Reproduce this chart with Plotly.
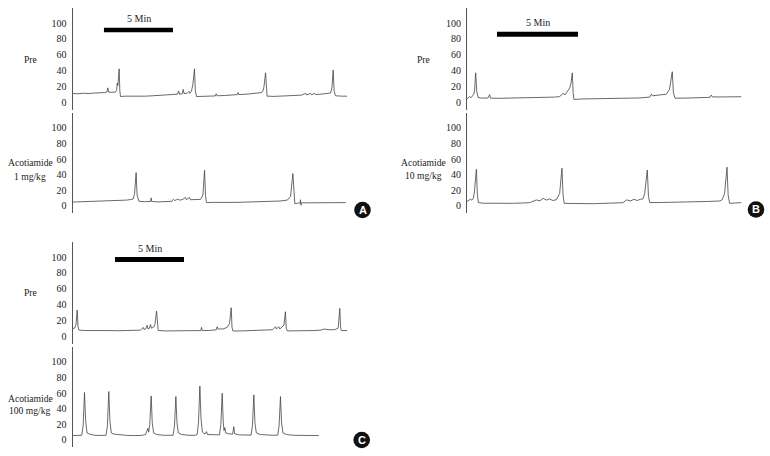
import plotly.graph_objects as go

# ---------------- data (time in minutes, amplitude in arbitrary units) ----------------
y_ticks = [0, 20, 40, 60, 80, 100]
bar_minutes = 5
bar_label = "5 Min"

A_pre_t = [0, 0.4, 0.8, 1.2, 1.6, 2.0, 2.35, 2.5, 2.56, 2.62, 2.9, 3.1, 3.2, 3.24, 3.29, 3.33, 3.38, 3.43, 3.48,
           3.8, 4.3, 4.8, 5.3, 5.8, 6.3, 6.8, 7.3, 7.6, 7.7, 7.76, 7.95, 8.02, 8.08, 8.3, 8.43, 8.5, 8.62, 8.72,
           8.84, 8.9, 8.99, 9.4, 9.9, 10.35, 10.41, 10.47, 11.0, 11.5, 11.95, 12.0, 12.06, 12.6, 13.1, 13.5,
           13.7, 13.82, 13.88, 13.99, 14.05, 14.1, 14.6, 15.1, 15.6, 16.1, 16.6, 16.9, 16.96, 17.25, 17.31,
           17.56, 17.62, 18.0, 18.4, 18.7, 18.8, 18.89, 18.96, 19.06, 19.5, 19.9]
A_pre_v = [11, 10.5, 11.2, 10.8, 11.5, 11.3, 12, 13, 18, 12.5, 12, 12.5, 15, 24, 21, 30, 42, 14, 7,
           7.5, 7.2, 7.8, 7.5, 8, 8.3, 8.8, 9.5, 10, 14, 10, 10.5, 16, 11, 11, 13.5, 11, 14, 22,
           42, 14, 7, 7.3, 7.8, 7.8, 10.5, 8, 8.3, 8.8, 9.5, 12, 9.5, 10, 10.5, 11,
           12, 15, 20, 37, 15, 7.5, 7.2, 7.5, 7.8, 8.2, 8.8, 11, 9, 11, 9.2,
           11, 9.5, 10, 10.5, 11.5, 18, 40.5, 14, 8, 7.5, 7.5]

A_1_t = [0, 0.5, 1.0, 1.5, 2.0, 2.5, 3.0, 3.5, 3.9, 4.2, 4.4, 4.5, 4.61, 4.68, 4.76, 4.81, 5.2, 5.66, 5.7, 5.74,
         6.2, 6.7, 7.2, 7.3, 7.4, 7.6, 7.8, 8.0, 8.19, 8.25, 8.48, 8.54, 8.9, 9.28, 9.45, 9.57, 9.64, 9.71,
         10.2, 10.8, 11.4, 12.0, 12.6, 13.2, 13.8, 14.4, 15.0, 15.56, 15.8, 15.97, 16.04, 16.11, 16.3, 16.5,
         16.52, 16.55, 16.6, 17.1, 17.7, 18.3, 18.9, 19.4, 19.8]
A_1_v = [5, 5.3, 5, 5.6, 5.5, 6, 6.2, 6.8, 7.5, 8.2, 9, 16, 42.7, 14, 7, 6, 5.5, 5.8, 10.3, 5.8,
         5.2, 5.5, 6, 8.5, 7, 8.5, 7.5, 8.5, 11, 8, 11, 8, 8, 8.5, 14, 45.7, 13, 4.3,
         4.6, 4.4, 4.8, 4.6, 5, 5.2, 5.5, 5.8, 6.3, 7.5, 12, 41.5, 12, 3, 3.5, 4,
         8, 1, 4, 4.2, 4, 4.5, 4.2, 4.5, 4.3]

B_pre_t = [0, 0.1, 0.16, 0.25, 0.35, 0.42, 0.47, 0.535, 0.6, 0.68, 0.9, 1.3, 1.4, 1.45, 2.0, 2.6, 3.2, 3.8,
           4.3, 4.9, 5.4, 5.72, 5.93, 6.05, 6.2, 6.34, 6.42, 6.5, 6.55, 6.6, 7.2, 7.8, 8.4, 9.0, 9.6, 10.04,
           10.6, 11.28, 11.38, 11.45, 11.9, 12.3, 12.5, 12.67, 12.74, 12.84, 13.4, 14.0, 14.6, 15.0, 15.08,
           15.15, 15.7, 16.3, 16.93]
B_pre_v = [4, 6, 7, 5.5, 7.5, 10, 15, 37, 14, 6, 5, 5.2, 9.5, 5, 4.8, 5, 5, 5.2,
           5.3, 5.8, 6.3, 7, 11, 9, 13, 18, 24, 37, 12, 3.4, 4, 4.2, 4, 4.3, 4.2, 4.5,
           5.2, 6.3, 10, 8, 8.8, 10, 16, 38.4, 12, 5, 5, 5.2, 5.5, 6, 9,
           6.5, 6.5, 7, 6.8]

B_10_t = [0, 0.1, 0.2, 0.3, 0.4, 0.47, 0.58, 0.64, 0.7, 1.0, 1.6, 2.2, 2.8, 3.4, 3.87, 4.28, 4.5, 4.7, 4.9,
          5.1, 5.3, 5.51, 5.72, 5.86, 5.93, 6.0, 6.6, 7.2, 7.8, 8.4, 9.0, 9.63, 9.84, 10.1, 10.3, 10.5, 10.7,
          10.86, 10.97, 11.13, 11.2, 11.28, 11.9, 12.5, 13.1, 13.7, 14.3, 14.9, 15.6, 15.75, 15.9, 16.05,
          16.12, 16.21, 16.5, 16.93]
B_10_v = [5.6, 7.5, 8.5, 7.5, 10, 20.5, 47, 15, 4.3, 3.5, 3.3, 3.6, 3.4, 3.8, 4.2, 7.7, 6.5, 9.8, 7.5,
          9, 7, 8, 16, 48.3, 14, 3.3, 3, 3.2, 2.9, 3.3, 3.5, 4.2, 7.7, 6.5, 8.5, 7, 8.5,
          9, 16, 46, 13, 4.3, 4.4, 4.6, 4.5, 5, 5.2, 5.8, 6.4, 8, 16, 49.6,
          14, 3.3, 3.8, 4.3]

C_pre_t = [0, 0.15, 0.25, 0.34, 0.4, 0.46, 0.9, 1.5, 2.1, 2.7, 3.3, 3.9, 4.5, 4.93, 5.12, 5.18, 5.3, 5.41,
           5.47, 5.58, 5.65, 5.72, 5.89, 5.98, 6.09, 6.15, 6.21, 6.8, 7.4, 8.0, 8.6, 9.3, 9.35, 9.4, 10.0,
           10.42, 10.48, 10.55, 10.9, 11.21, 11.38, 11.5, 11.56, 11.62, 12.2, 12.8, 13.4, 14.0, 14.5, 14.71,
           14.78, 14.95, 15.02, 15.19, 15.32, 15.43, 15.49, 15.56, 16.2, 16.8, 17.4, 18.0, 18.21, 18.6, 19.0,
           19.25, 19.37, 19.43, 19.49, 19.9]
C_pre_v = [9.7, 10, 14, 33, 12, 7.6, 7, 7.2, 6.8, 7, 6.8, 7.1, 7, 7.5, 11, 8.5, 9, 13.7,
           9, 10, 14.6, 10, 11.5, 15, 31.6, 11, 7, 6.5, 6.8, 6.5, 6.9, 7, 11, 7, 7.2,
           8, 11.8, 9, 9, 11, 16, 35.9, 11, 6.5, 6.5, 6.8, 6.7, 7, 8, 11.8,
           9, 11.8, 9, 11.5, 14, 30.8, 10, 6.5, 6.5, 6.8, 7, 7.5, 8.9, 8, 8.2,
           10, 35, 10, 7, 7]

C_100_t = [0, 0.4, 0.67, 0.77, 0.87, 0.95, 1.05, 1.25, 1.6, 2.0, 2.43, 2.53, 2.63, 2.71, 2.81, 3.0, 3.5, 4.0,
           4.5, 5.0, 5.3, 5.46, 5.52, 5.6, 5.7, 5.78, 5.88, 6.1, 6.6, 7.0, 7.29, 7.39, 7.49, 7.57, 7.67, 7.9,
           8.4, 8.9, 9.03, 9.13, 9.23, 9.31, 9.41, 9.6, 9.71, 9.78, 10.2, 10.65, 10.75, 10.85, 10.92, 10.98,
           11.04, 11.1, 11.3, 11.6, 11.69, 11.75, 12.1, 12.6, 12.94, 13.04, 13.14, 13.22, 13.32, 13.6, 14.1,
           14.5, 14.87, 14.97, 15.07, 15.15, 15.25, 15.5, 16.0, 16.6, 17.2, 17.85]
C_100_v = [5.6, 5.6, 6, 18, 60.7, 25, 9, 7.5, 6, 5.8, 6, 18, 62, 25, 9, 7.5, 6.5, 5.8,
           5.6, 5.8, 7, 15, 10, 20, 56.4, 22, 9, 7, 6, 5.8, 6, 18, 55.6, 22, 9, 7,
           6, 6, 7, 22, 69, 28, 10, 7.5, 10.7, 7, 6.5, 6.5, 20, 59.8, 24, 12,
           15.8, 9, 8, 7.5, 17, 8, 6.5, 6, 6.2, 18, 57.7, 22, 9, 7, 6.2,
           6, 6.2, 18, 55.6, 22, 9, 7, 6, 5.8, 5.6, 5.6]

# ---------------- layout (pixel geometry of a 770 x 456 canvas) ----------------
W, H = 770, 456
def fx(p):
    return p / W
def fy(p):
    return 1 - p / H

# panel: (trace t, trace v, x domain px, y domain px (top, bottom), px per minute, y range)
panels = [
    (A_pre_t, A_pre_v, (72.5, 350.5), (8, 110), 13.8, [-10, 119]),
    (A_1_t, A_1_v, (72.5, 350.5), (113, 213), 13.8, [-9, 119]),
    (B_pre_t, B_pre_v, (467, 745), (8, 110), 16.2, [-10, 119]),
    (B_10_t, B_10_v, (467, 745), (113, 213), 16.2, [-9, 119]),
    (C_pre_t, C_pre_v, (72.5, 350.5), (242, 344), 13.8, [-10, 119]),
    (C_100_t, C_100_v, (72.5, 350.5), (347, 447), 13.8, [-9, 119]),
]

SERIF = "Liberation Serif, Times New Roman, serif"

fig = go.Figure()
layout = dict(
    width=W, height=H, margin=dict(l=0, r=0, t=0, b=0),
    paper_bgcolor="white", plot_bgcolor="white", showlegend=False,
    font=dict(family=SERIF, size=10, color="#222"),
)

for i, (t, v, xd, yd, scale, yr) in enumerate(panels, start=1):
    sfx = "" if i == 1 else str(i)
    fig.add_trace(go.Scatter(x=t, y=v, mode="lines", xaxis="x" + sfx, yaxis="y" + sfx,
                             line=dict(color="#444", width=0.8), hoverinfo="skip"))
    layout["xaxis" + sfx] = dict(domain=[fx(xd[0]), fx(xd[1])], range=[0, (xd[1] - xd[0]) / scale],
                                 visible=False, anchor="y" + sfx, fixedrange=True)
    layout["yaxis" + sfx] = dict(domain=[fy(yd[1]), fy(yd[0])], range=yr, anchor="x" + sfx,
                                 tickvals=y_ticks, ticktext=[str(k) for k in y_ticks],
                                 showline=True, linecolor="#555", linewidth=1, ticks="",
                                 showgrid=False, zeroline=False, ticklabelstandoff=3, fixedrange=True,
                                 tickfont=dict(family=SERIF, size=10, color="#222"))

fig.update_layout(**layout)

# scale bars (5 min) drawn in each top panel's own time axis
bars = [("x", 2.28, (27.7, 32.3), (138.5, 19)),
        ("x3", 1.85, (31.7, 36.7), (537.5, 23)),
        ("x5", 3.08, (257, 262), (149.5, 248))]
for xr, start, (yt, yb), (tx, ty) in bars:
    fig.add_shape(type="rect", xref=xr, yref="paper", x0=start, x1=start + bar_minutes,
                  y0=fy(yb), y1=fy(yt), fillcolor="black", line=dict(width=0))
    fig.add_annotation(x=fx(tx), y=fy(ty), xref="paper", yref="paper", text=bar_label,
                       showarrow=False, font=dict(size=10, color="#222"), xanchor="center", yanchor="middle")

# row labels
labels = [("Pre", 30, 59), ("Acotiamide", 30, 163), ("1 mg/kg", 30, 176),
          ("Pre", 424, 59), ("Acotiamide", 424, 163), ("10 mg/kg", 424, 175),
          ("Pre", 30, 292), ("Acotiamide", 30, 398), ("100 mg/kg", 30, 410)]
for txt, x, y in labels:
    fig.add_annotation(x=fx(x), y=fy(y), xref="paper", yref="paper", text=txt, showarrow=False,
                       font=dict(size=9.6, color="#222"), xanchor="center", yanchor="middle")

# panel letters
letters = [("A", 362.5, 210), ("B", 756, 209.5), ("C", 361.7, 440)]
r = 8.3
for txt, x, y in letters:
    fig.add_shape(type="circle", xref="paper", yref="paper", x0=fx(x - r), x1=fx(x + r),
                  y0=fy(y + r), y1=fy(y - r), fillcolor="#111", line=dict(width=0))
    fig.add_annotation(x=fx(x), y=fy(y), xref="paper", yref="paper", text="<b>" + txt + "</b>",
                       showarrow=False, xanchor="center", yanchor="middle",
                       font=dict(family="Liberation Sans, Arial, sans-serif", size=11, color="white"))

fig.write_html("out.html", config={"displayModeBar": False, "staticPlot": True},
               post_script="document.body.style.margin='0';document.body.style.overflow='hidden';")
